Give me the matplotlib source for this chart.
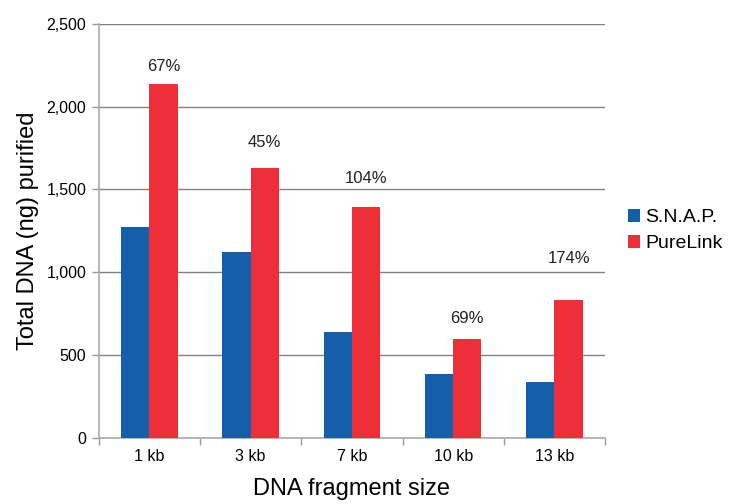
import numpy as np
from matplotlib import pyplot as plt

plt.rcParams['font.family'] = ['Liberation Sans', 'DejaVu Sans']

sizes = ['1 kb', '3 kb', '7 kb', '10 kb', '13 kb']
snap = [1275, 1120, 637, 385, 335]
purelink = [2135, 1632, 1393, 597, 834]
pct_labels = ['67%', '45%', '104%', '69%', '174%']
label_y = [2243, 1782, 1564, 718, 1080]

fig = plt.figure(figsize=(7.4, 5.04), dpi=100)
ax = fig.add_axes([0.1334, 0.1315, 0.6842, 0.8209])

x = np.arange(len(sizes))
w = 0.28
ax.bar(x - w / 2, snap, width=w, color='#155EAA', label='S.N.A.P.', zorder=3)
ax.bar(x + w / 2, purelink, width=w, color='#EE2E38', label='PureLink', zorder=3)

for xi, lab, yy in zip(x, pct_labels, label_y):
    ax.text(xi + w / 2, yy, lab, ha='center', va='center', fontsize=12, color='#222222')

ax.set_xlim(-0.5, len(sizes) - 0.5)
ax.set_ylim(0, 2500)
ax.set_yticks(np.arange(0, 2501, 500))
ax.set_yticklabels(['{:,}'.format(v) for v in range(0, 2501, 500)])
ax.yaxis.grid(True, color='#808080', linewidth=1, zorder=0)

ax.set_xticks(x)
ax.set_xticklabels(sizes)
ax.set_xticks(np.arange(-0.5, len(sizes)), minor=True)
ax.tick_params(axis='x', which='major', length=0, pad=8, labelsize=11.5)
ax.tick_params(axis='x', which='minor', length=5, color='#999999', width=1)
ax.tick_params(axis='y', length=5, color='#999999', width=1, labelsize=11.5, pad=4)

for s in ['top', 'right']:
    ax.spines[s].set_visible(False)
for s in ['left', 'bottom']:
    ax.spines[s].set_color('#aaaaaa')
    ax.spines[s].set_linewidth(1.2)

ax.set_xlabel('DNA fragment size', fontsize=17, labelpad=10)
ax.set_ylabel('Total DNA (ng) purified', fontsize=17, labelpad=5)

ax.legend(loc='center left', bbox_to_anchor=(1.01, 0.5), frameon=False,
          fontsize=14, handlelength=0.62, handleheight=0.62, handletextpad=0.3,
          labelspacing=0.45)

fig.savefig('out.png', dpi=100)
